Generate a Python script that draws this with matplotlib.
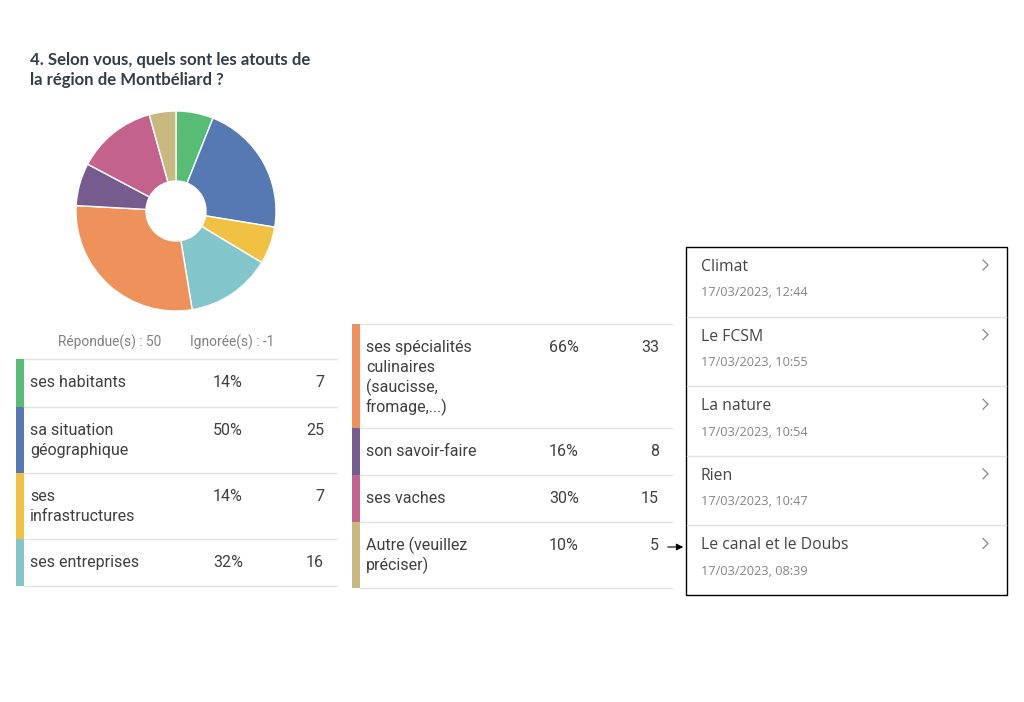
import matplotlib.pyplot as plt
from matplotlib.patches import Rectangle

# données du sondage
labels = ['ses habitants', 'sa situation\ngéographique', 'ses\ninfrastructures',
          'ses entreprises', 'ses spécialités\nculinaires\n(saucisse,\nfromage,...)',
          'son savoir-faire', 'ses vaches', 'Autre (veuillez\npréciser)']
pcts = ['14%', '50%', '14%', '32%', '66%', '16%', '30%', '10%']
counts = [7, 25, 7, 16, 33, 8, 15, 5]
colors = ['#58bd74', '#5679b3', '#f0c143', '#82c6cc', '#ee915a', '#765c8e', '#c4628e', '#c8b981']
answered = 50
skipped = -1

comments = ['Climat', 'Le FCSM', 'La nature', 'Rien', 'Le canal et le Doubs']
dates = ['17/03/2023, 12:44', '17/03/2023, 10:55', '17/03/2023, 10:54',
         '17/03/2023, 10:47', '17/03/2023, 08:39']

W, H = 1024, 702
fig = plt.figure(figsize=(W / 100, H / 100), dpi=100)
ax = fig.add_axes([0, 0, 1, 1])
ax.set_xlim(0, W)
ax.set_ylim(H, 0)
ax.axis('off')

dark = '#333e48'
body = '#3f3f3f'
line_c = '#e3e3e3'

# titre
ax.text(30, 65, '4. Selon vous, quels sont les atouts de', fontsize=12.1, fontweight='bold',
        family='Lato', color=dark, va='baseline')
ax.text(30, 85, 'la région de Montbéliard ?', fontsize=12.1, fontweight='bold',
        family='Lato', color=dark, va='baseline')

# anneau
cx, cy, r = 176, 211, 100
pax = fig.add_axes([(cx - r) / W, (H - cy - r) / H, 2 * r / W, 2 * r / H])
pax.pie(counts, colors=colors, startangle=90, counterclock=False, radius=1,
        wedgeprops=dict(width=0.7, edgecolor='white', linewidth=1))
pax.set_aspect('equal')
pax.set_xlim(-1, 1)
pax.set_ylim(-1, 1)

# en-tête
ax.text(58, 347, f'Répondue(s) : {answered}', fontsize=9.9, family='Roboto', color='#808080', va='baseline')
ax.text(190, 347, f'Ignorée(s) : {skipped}', fontsize=9.9, family='Roboto', color='#808080', va='baseline')

fs = 11.5


def draw_table(rows, x0, y0, heights, x_pct, x_cnt, x_end):
    y = y0
    ax.plot([x0 + 8, x_end], [y, y], color=line_c, lw=1)
    for i, h in zip(rows, heights):
        ax.add_patch(Rectangle((x0, y), 8, h, color=colors[i], lw=0))
        for j, part in enumerate(labels[i].split('\n')):
            ax.text(x0 + 14, y + 28 + 20 * j, part, fontsize=fs, family='Roboto', color=body,
                    va='baseline')
        ax.text(x_pct, y + 28, pcts[i], fontsize=fs, family='Roboto', color=body, va='baseline')
        ax.text(x_cnt, y + 28, str(counts[i]), fontsize=fs, family='Roboto', color=body,
                va='baseline', ha='right')
        y += h
        ax.plot([x0 + 8, x_end], [y, y], color=line_c, lw=1)


draw_table([0, 1, 2, 3], 16, 359, [48, 66, 66, 47], 213, 324, 337)
draw_table([4, 5, 6, 7], 352, 324, [104, 47, 47, 66], 549, 659, 672)

# flèche vers les réponses "Autre"
ax.annotate('', xy=(686, 547), xytext=(665, 547),
            arrowprops=dict(arrowstyle='-|>', color='black', lw=0.8, mutation_scale=10))

# encadré des commentaires
bx0, by0, bx1, by1 = 686, 247, 1007, 595
ax.add_patch(Rectangle((bx0, by0), bx1 - bx0, by1 - by0, fill=False, edgecolor='black', lw=1))
step = (by1 - by0) / len(comments)
for k, (c, d) in enumerate(zip(comments, dates)):
    top = by0 + k * step
    if k > 0:
        ax.plot([bx0 + 1, bx1 - 1], [top, top], color=line_c, lw=1)
    ax.text(701, top + 24, c, fontsize=11.3, family='Open Sans', color='#444444', va='baseline')
    ax.text(701, top + 49.5, d, fontsize=9.2, family='Open Sans', color='#858585', va='baseline')
    ax.plot([983, 988, 983], [top + 13, top + 18, top + 23], color='#888888', lw=0.9)

fig.savefig('out.png', dpi=100, facecolor='white')
